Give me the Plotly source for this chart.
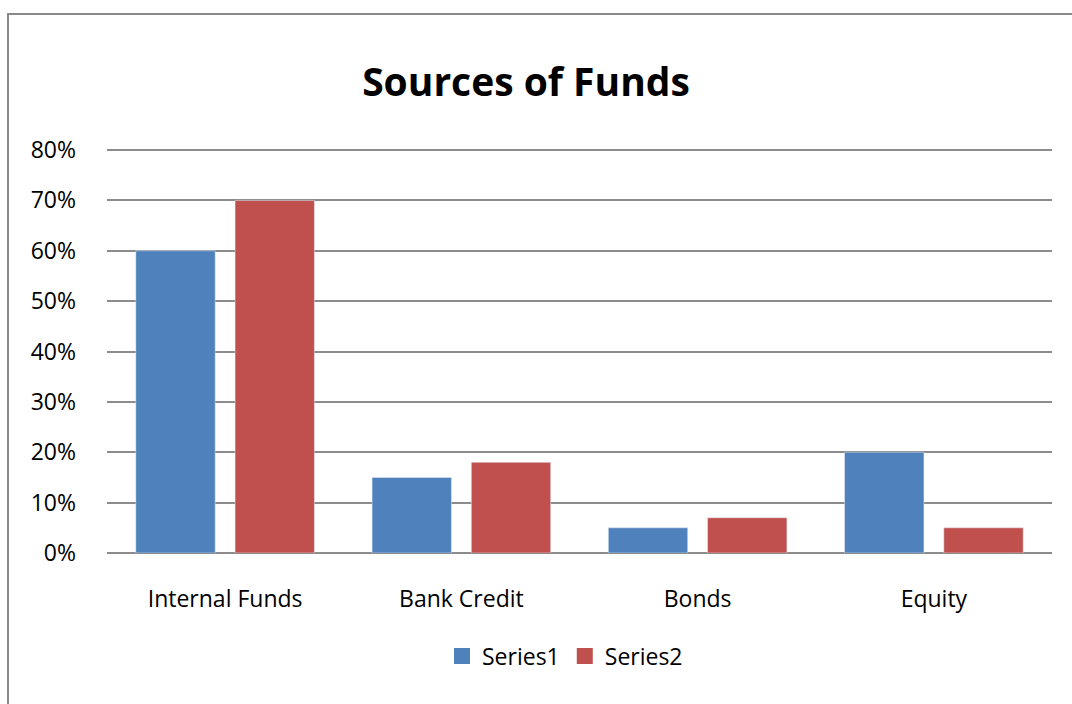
import plotly.graph_objects as go

categories = ["Internal Funds", "Bank Credit", "Bonds", "Equity"]
series1 = [0.60, 0.15, 0.05, 0.20]
series2 = [0.70, 0.18, 0.07, 0.05]
y_ticks = [0, 0.1, 0.2, 0.3, 0.4, 0.5, 0.6, 0.7, 0.8]
y_tick_labels = ["0%", "10%", "20%", "30%", "40%", "50%", "60%", "70%", "80%"]

FONT = "Open Sans, sans-serif"
GRID = "#8c8c8c"
BLUE, RED = "#4F81BD", "#C0504D"
Y_MAX = 0.81

fig = go.Figure()
fig.add_trace(go.Bar(name="Series1", x=categories, y=series1, marker_color=BLUE,
                     showlegend=False))
fig.add_trace(go.Bar(name="Series2", x=categories, y=series2, marker_color=RED,
                     showlegend=False))
# larger square legend keys
for name, col in (("Series1", BLUE), ("Series2", RED)):
    fig.add_trace(go.Scatter(name=name, x=[None], y=[None], mode="markers",
                             marker=dict(symbol="square", size=17, color=col)))

W, H = 1072, 704
# plot area: 0% at y=553, 80% at y=150, x from 107 to 1052
L, R, B = 107, 20, 151
px_per_unit = (553 - 150) / 0.8
T = round(553 - Y_MAX * px_per_unit)
pw, ph = W - L - R, H - T - B

def px_x(p):
    return (p - L) / pw

def px_y(p):
    return (H - B - p) / ph

fig.update_layout(
    width=W, height=H,
    margin=dict(l=L, r=R, t=T, b=B),
    paper_bgcolor="white", plot_bgcolor="white",
    barmode="group", bargap=0.16, bargroupgap=0.2,
    font=dict(family=FONT, size=23, color="#000000"),
    title=dict(text="<b>Sources of Funds</b>", x=526 / W, xanchor="center",
               y=1 - 82 / H, yanchor="middle",
               font=dict(family=FONT, size=39, color="#000000")),
    xaxis=dict(showgrid=False, showline=False, ticks="", ticklabelstandoff=30,
               tickfont=dict(size=23)),
    yaxis=dict(range=[0, Y_MAX], tickvals=y_ticks, ticktext=y_tick_labels,
               showgrid=True, gridcolor=GRID, gridwidth=2,
               zeroline=True, zerolinecolor=GRID, zerolinewidth=2,
               showline=False, ticks="", ticklabelstandoff=30,
               tickfont=dict(size=23)),
    legend=dict(orientation="h", x=px_x(565), xanchor="center",
                y=px_y(656), yanchor="middle", font=dict(size=23),
                itemwidth=30, tracegroupgap=0),
    shapes=[dict(type="rect", xref="paper", yref="paper",
                 x0=px_x(8), x1=px_x(1090), y0=px_y(14), y1=px_y(720),
                 line=dict(color="#8a8a8a", width=2), layer="below")],
)

fig.write_html("out.html")
